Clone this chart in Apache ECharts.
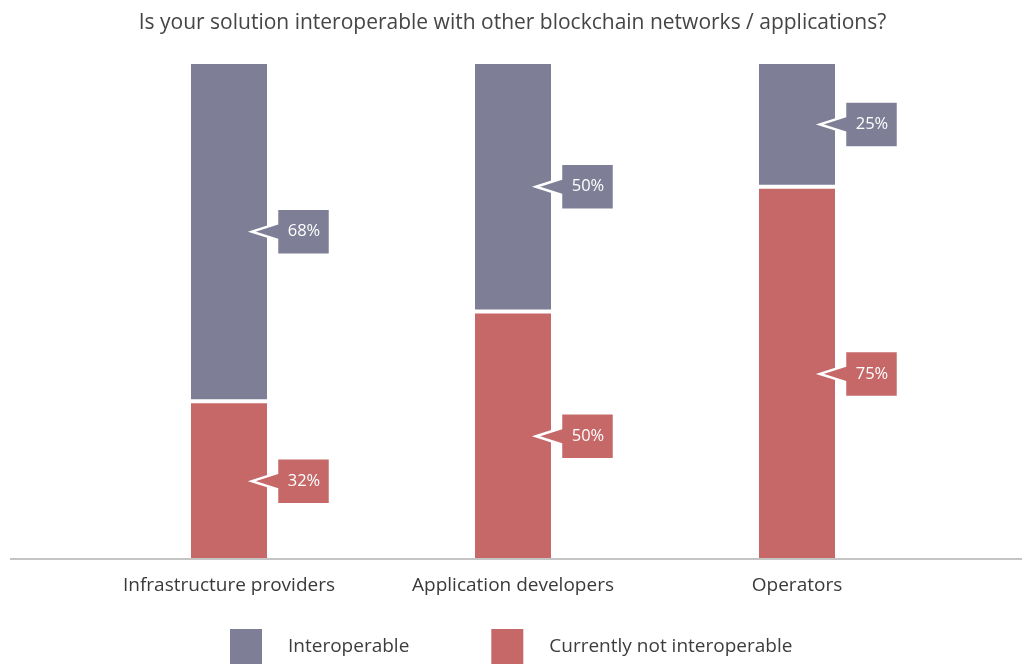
<!DOCTYPE html>
<html>
<head>
<meta charset="utf-8">
<script src="https://cdn.jsdelivr.net/npm/echarts@6/dist/echarts.min.js"></script>
<style>
  html, body { margin: 0; padding: 0; background: #fff; }
  #chart { width: 1025px; height: 664px; }
</style>
</head>
<body>
<div id="chart"></div>
<script>
!function(){
    // data
    var categories = ['Infrastructure providers', 'Application developers', 'Operators'];
    var interoperable = [68, 50, 25];
    var notInteroperable = [32, 50, 75];

    var blue = '#7e7f96';
    var red = '#c66868';
    var font = '"Open Sans", "Noto Sans", sans-serif';

    var myChart = echarts.init(document.getElementById('chart'));

    // callout: box to the right of the bar with a notch pointing into it
    function renderCallout(params, api) {
        var c = api.coord([api.value(0), api.value(1)]);
        var x = c[0], y = c[1];
        var color = api.visual('color');
        return {
            type: 'group',
            children: [{
                type: 'polygon',
                shape: {
                    points: [[x + 23, y], [x + 48, y - 8], [x + 48, y - 23], [x + 101, y - 23],
                             [x + 101, y + 23], [x + 48, y + 23], [x + 48, y + 8]]
                },
                style: { fill: color, stroke: '#fff', lineWidth: 2.5, lineJoin: 'miter' }
            }, {
                type: 'text',
                style: {
                    text: api.value(2) + '%',
                    x: x + 75, y: y,
                    align: 'center', verticalAlign: 'middle',
                    fill: '#fff', font: '16.5px ' + font
                }
            }]
        };
    }

    var blueLabels = interoperable.map(function (v, i) {
        return [i, notInteroperable[i] + v / 2, v];
    });
    var redLabels = notInteroperable.map(function (v, i) {
        return [i, v / 2, v];
    });

    var option = {
        animation: false,
        backgroundColor: '#fff',
        title: {
            text: 'Is your solution interoperable with other blockchain networks / applications?',
            left: 'center',
            top: 8,
            textStyle: { fontFamily: font, fontSize: 21, fontWeight: 'normal', color: '#454545' }
        },
        legend: {
            data: ['Interoperable', 'Currently not interoperable'],
            left: 228,
            top: 627,
            padding: 0,
            itemWidth: 34,
            itemHeight: 37,
            itemGap: 80,
            icon: 'rect',
            textStyle: { fontFamily: font, fontSize: 19, color: '#3d3d3d', padding: [0, 0, 0, 20] }
        },
        grid: { left: 87, width: 852, top: 62, height: 499 },
        xAxis: {
            type: 'category',
            data: categories,
            axisLine: { show: false },
            axisTick: { show: false },
            axisLabel: { margin: 15, fontFamily: font, fontSize: 19, color: '#3a3a3a' }
        },
        yAxis: {
            type: 'value',
            min: 0,
            max: 100,
            show: false,
            splitLine: { show: false }
        },
        series: [{
            name: 'Currently not interoperable',
            type: 'bar',
            stack: 'total',
            barWidth: 80,
            data: notInteroperable,
            itemStyle: { color: red, borderColor: '#fff', borderWidth: 2 }
        }, {
            name: 'Interoperable',
            type: 'bar',
            stack: 'total',
            barWidth: 80,
            data: interoperable,
            itemStyle: { color: blue, borderColor: '#fff', borderWidth: 2 }
        }, {
            name: 'Interoperable',
            type: 'custom',
            renderItem: renderCallout,
            data: blueLabels,
            itemStyle: { color: blue },
            z: 5
        }, {
            name: 'Currently not interoperable',
            type: 'custom',
            renderItem: renderCallout,
            data: redLabels,
            itemStyle: { color: red },
            z: 5
        }],
        graphic: [{
            type: 'line',
            shape: { x1: 10, y1: 559, x2: 1022, y2: 559 },
            style: { stroke: '#c4c4c4', lineWidth: 2 },
            z: 10
        }]
    };

    myChart.setOption(option);
}()
</script>
</body>
</html>
